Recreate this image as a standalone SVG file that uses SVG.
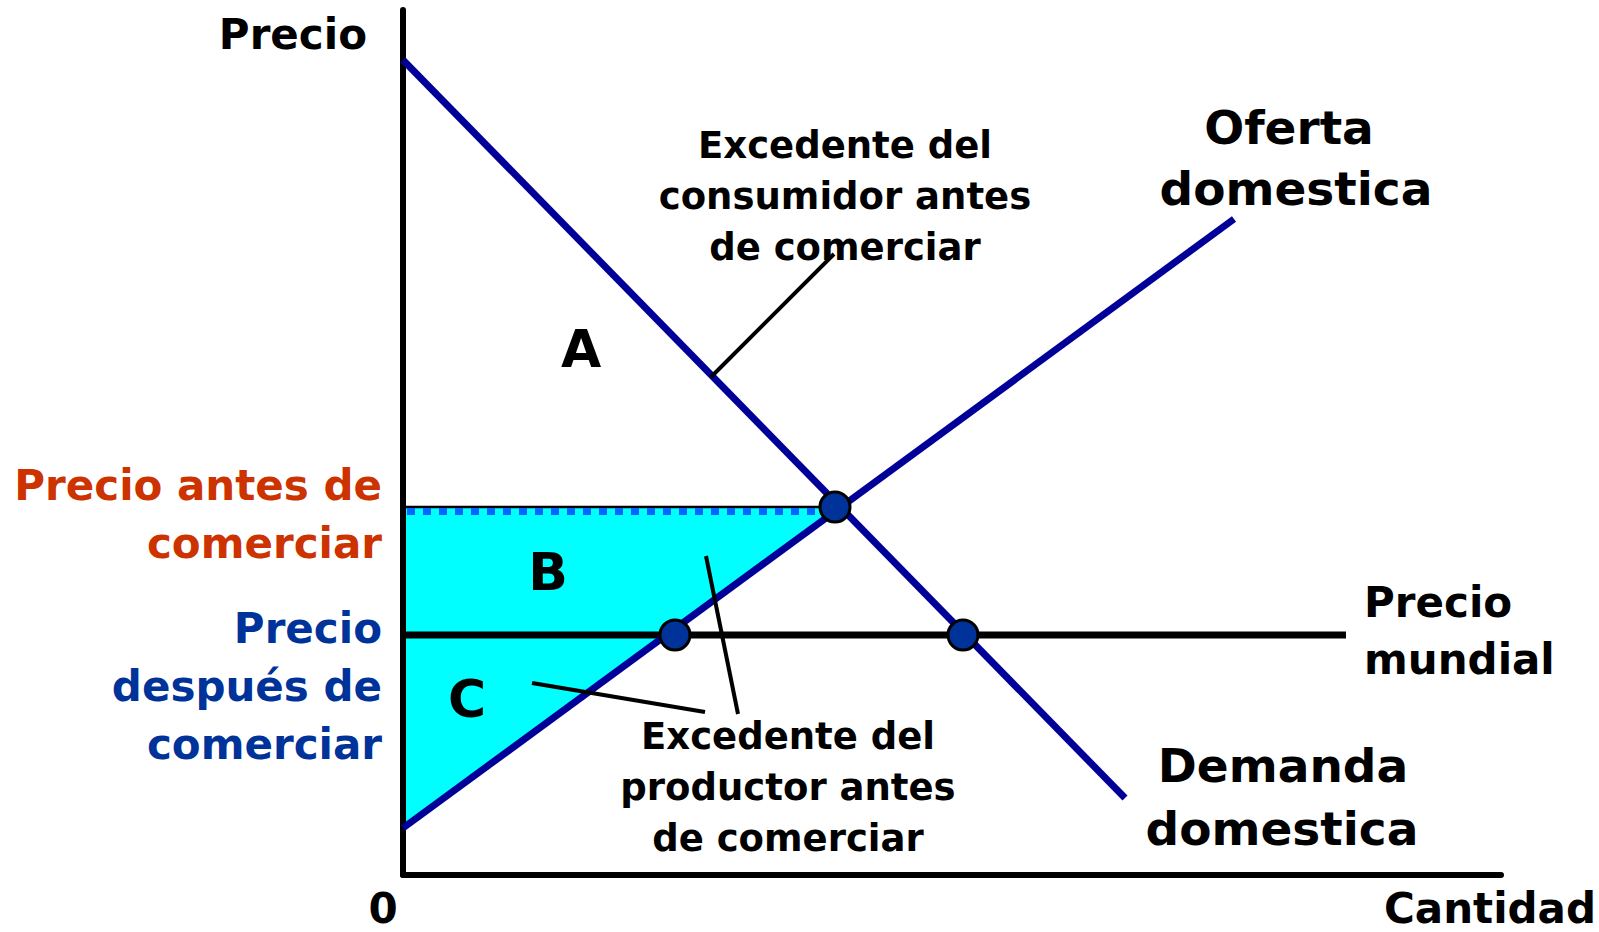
<svg xmlns="http://www.w3.org/2000/svg" width="1599" height="932" viewBox="0 0 1599 932">
<style>
text{font-family:"DejaVu Sans","Verdana",sans-serif;font-weight:bold;fill:#000}
.t42{font-size:42px}
.t37{font-size:37px}
.t47{font-size:47px}
.t52{font-size:52px}
.red{fill:#CC3300}
.blu{fill:#003399}
.curve{stroke:#000099;stroke-width:7;fill:none}
.ptr{stroke:#000;stroke-width:4;fill:none}
.dot{fill:#003399;stroke:#000;stroke-width:3}
</style>
<rect width="1599" height="932" fill="#fff"/>
<g id="surplus-area">
<polygon points="403,507 835,507 403,828" fill="#00FFFF"/>
<line x1="403" y1="507" x2="835" y2="507" stroke="#000" stroke-width="2.5"/>
<line x1="407" y1="511.5" x2="822" y2="511.5" stroke="#0066FF" stroke-width="7" stroke-dasharray="8 8"/>
</g>
<g id="axes">
<line x1="403" y1="10" x2="403" y2="875" stroke="#000" stroke-width="6" stroke-linecap="round"/>
<line x1="403" y1="875" x2="1501" y2="875" stroke="#000" stroke-width="6" stroke-linecap="round"/>
</g>
<g id="connectors">
<line id="world-price" x1="403" y1="635" x2="1346" y2="635" stroke="#000" stroke-width="7"/>
<line id="demand" class="curve" x1="403" y1="60" x2="1125" y2="798"/>
<line id="supply" class="curve" x1="403" y1="828" x2="1234" y2="219"/>
<line class="ptr" x1="711" y1="377" x2="834" y2="254"/>
<line class="ptr" x1="706" y1="556" x2="738" y2="714"/>
<line class="ptr" x1="532" y1="683" x2="705" y2="712"/>
</g>
<g id="points">
<circle class="dot" cx="835" cy="507" r="15"/>
<circle class="dot" cx="675" cy="635" r="15"/>
<circle class="dot" cx="963" cy="635" r="15"/>
</g>
<g id="label-precio-axis"><text class="t42" x="367" y="49" text-anchor="end">Precio</text></g>
<g id="label-cantidad"><text class="t42" x="1596" y="923" text-anchor="end">Cantidad</text></g>
<g id="label-zero"><text class="t42" x="383" y="923" text-anchor="middle">0</text></g>
<g id="label-price-before">
<text class="t42 red" x="382" y="500" text-anchor="end">Precio antes de</text>
<text class="t42 red" x="382" y="558" text-anchor="end">comerciar</text>
</g>
<g id="label-price-after">
<text class="t42 blu" x="382" y="643" text-anchor="end">Precio</text>
<text class="t42 blu" x="382" y="701" text-anchor="end">después de</text>
<text class="t42 blu" x="382" y="759" text-anchor="end">comerciar</text>
</g>
<g id="label-consumer">
<text class="t37" x="845" y="158" text-anchor="middle">Excedente del</text>
<text class="t37" x="845" y="209" text-anchor="middle">consumidor antes</text>
<text class="t37" x="845" y="260" text-anchor="middle">de comerciar</text>
</g>
<g id="label-producer">
<text class="t37" x="788" y="749" text-anchor="middle">Excedente del</text>
<text class="t37" x="788" y="800" text-anchor="middle">productor antes</text>
<text class="t37" x="788" y="851" text-anchor="middle">de comerciar</text>
</g>
<g id="label-A"><text class="t52" x="581" y="367" text-anchor="middle">A</text></g>
<g id="label-B"><text class="t52" x="548" y="590" text-anchor="middle">B</text></g>
<g id="label-C"><text class="t52" x="467" y="717" text-anchor="middle">C</text></g>
<g id="label-supply">
<text class="t47" x="1289" y="144" text-anchor="middle">Oferta</text>
<text class="t47" x="1296" y="205" text-anchor="middle">domestica</text>
</g>
<g id="label-demand">
<text class="t47" x="1283" y="782" text-anchor="middle">Demanda</text>
<text class="t47" x="1282" y="845" text-anchor="middle">domestica</text>
</g>
<g id="label-world">
<text class="t42" x="1364" y="617">Precio</text>
<text class="t42" x="1364" y="674">mundial</text>
</g>
</svg>
